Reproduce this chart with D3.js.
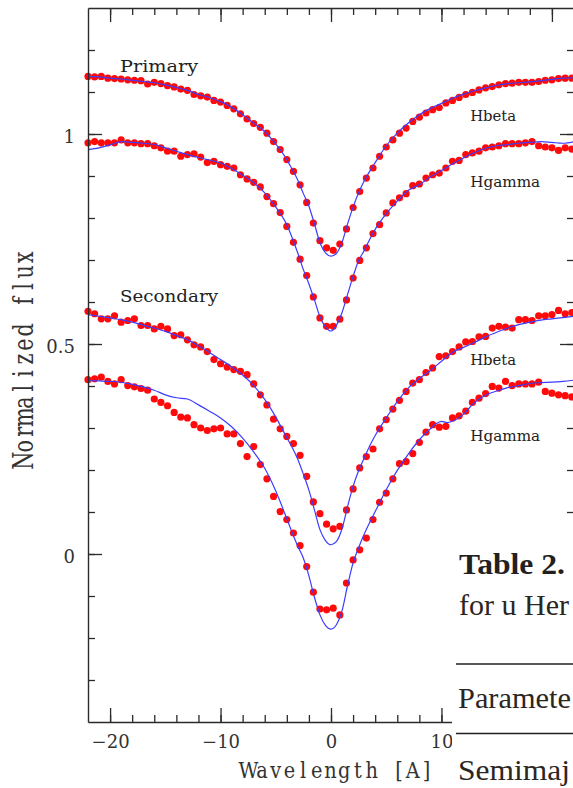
<!DOCTYPE html>
<html>
<head>
<meta charset="utf-8">
<script src="https://cdn.jsdelivr.net/npm/d3@7"></script>
<style>
  html, body { margin: 0; padding: 0; background: #fff; }
  svg { display: block; }
</style>
</head>
<body>
<svg id="chart" width="573" height="788"></svg>
<script>
// Observed sample wavelengths (offset from line centre, in A), shared by all four spectra
const wavelengths = [
  -22, -21.4, -20.8, -20.2, -19.6, -19, -18.4, -17.8, -17.2, -16.6,
  -16, -15.4, -14.8, -14.2, -13.6, -13, -12.4, -11.8, -11.2, -10.6,
  -10, -9.4, -8.8, -8.2, -7.6, -7, -6.4, -5.8, -5.2, -4.6,
  -4, -3.4, -2.8, -2.2, -1.6, -1, -0.4, 0.2, 0.8, 1.4,
  2, 2.6, 3.2, 3.8, 4.4, 5, 5.6, 6.2, 6.8, 7.4,
  8, 8.6, 9.2, 9.8, 10.4, 11, 11.6, 12.2, 12.8, 13.4,
  14, 14.6, 15.2, 15.8, 16.4, 17, 17.6, 18.2, 18.8, 19.4,
  20, 20.6, 21.2, 21.8
];

// Observed normalized flux (offset for display)
const primaryHbetaObs = [
  1.137, 1.136, 1.137, 1.133, 1.132, 1.131, 1.129, 1.128, 1.127, 1.119,
  1.123, 1.120, 1.115, 1.112, 1.107, 1.104, 1.094, 1.091, 1.088, 1.080,
  1.076, 1.068, 1.060, 1.048, 1.036, 1.025, 1.016, 1.002, 0.982, 0.963,
  0.939, 0.911, 0.879, 0.837, 0.788, 0.746, 0.729, 0.723, 0.738, 0.774,
  0.825, 0.863, 0.895, 0.919, 0.947, 0.969, 0.986, 1.002, 1.014, 1.030,
  1.040, 1.050, 1.058, 1.063, 1.074, 1.080, 1.087, 1.094, 1.099, 1.105,
  1.110, 1.113, 1.117, 1.120, 1.121, 1.123, 1.123, 1.123, 1.125, 1.128,
  1.129, 1.132, 1.133, 1.133
];
const primaryHgammaObs = [
  0.979, 0.982, 0.979, 0.979, 0.979, 0.986, 0.979, 0.979, 0.977, 0.977,
  0.972, 0.967, 0.959, 0.959, 0.947, 0.951, 0.953, 0.945, 0.932, 0.935,
  0.927, 0.923, 0.919, 0.903, 0.893, 0.885, 0.874, 0.851, 0.834, 0.813,
  0.780, 0.742, 0.702, 0.663, 0.612, 0.562, 0.542, 0.542, 0.559, 0.605,
  0.657, 0.699, 0.729, 0.763, 0.784, 0.812, 0.836, 0.848, 0.858, 0.877,
  0.881, 0.895, 0.903, 0.907, 0.919, 0.935, 0.937, 0.951, 0.955, 0.959,
  0.967, 0.969, 0.972, 0.977, 0.977, 0.977, 0.979, 0.982, 0.972, 0.969,
  0.967, 0.961, 0.967, 0.964
];
const secondaryHbetaObs = [
  0.578, 0.572, 0.560, 0.560, 0.567, 0.552, 0.556, 0.560, 0.544, 0.544,
  0.536, 0.542, 0.536, 0.520, 0.522, 0.510, 0.498, 0.493, 0.482, 0.463,
  0.453, 0.445, 0.439, 0.435, 0.427, 0.405, 0.379, 0.355, 0.321, 0.298,
  0.280, 0.263, 0.235, 0.185, 0.124, 0.096, 0.071, 0.060, 0.066, 0.105,
  0.155, 0.205, 0.232, 0.250, 0.298, 0.320, 0.345, 0.366, 0.387, 0.407,
  0.415, 0.432, 0.443, 0.470, 0.472, 0.482, 0.493, 0.505, 0.506, 0.517,
  0.518, 0.538, 0.542, 0.540, 0.538, 0.558, 0.558, 0.556, 0.567, 0.567,
  0.570, 0.580, 0.572, 0.575
];
const secondaryHgammaObs = [
  0.415, 0.417, 0.421, 0.411, 0.405, 0.415, 0.401, 0.398, 0.394, 0.390,
  0.369, 0.361, 0.353, 0.337, 0.326, 0.324, 0.308, 0.300, 0.294, 0.298,
  0.300, 0.286, 0.286, 0.263, 0.232, 0.256, 0.213, 0.179, 0.137, 0.101,
  0.082, 0.050, 0.020, -0.030, -0.091, -0.131, -0.133, -0.129, -0.145, -0.069,
  -0.014, 0.010, 0.038, 0.082, 0.123, 0.145, 0.179, 0.215, 0.220, 0.239,
  0.266, 0.290, 0.308, 0.302, 0.304, 0.324, 0.329, 0.340, 0.361, 0.371,
  0.382, 0.399, 0.395, 0.411, 0.401, 0.405, 0.405, 0.405, 0.409, 0.387,
  0.383, 0.379, 0.377, 0.374
];

// Synthetic (model) profiles on their own wavelength grid
const modelWavelengths = [
  -22, -21, -20, -19, -18, -17, -16, -15, -14, -13,
  -12, -11, -10, -9, -8, -7, -6, -5, -4, -3.5,
  -3, -2.5, -2, -1.5, -1, -0.5, 0, 0.5, 1, 1.5,
  2, 2.5, 3, 3.5, 4, 5, 6, 7, 8, 9,
  9.5, 10, 10.5, 11, 12, 13, 14, 15, 16, 17,
  18, 19, 20, 21, 22
];
const primaryHbetaModel = [
  1.137, 1.136, 1.133, 1.131, 1.128, 1.125, 1.122, 1.117, 1.111, 1.104,
  1.094, 1.087, 1.077, 1.064, 1.046, 1.026, 1.006, 0.976, 0.939, 0.915,
  0.890, 0.858, 0.828, 0.786, 0.741, 0.717, 0.709, 0.716, 0.742, 0.786,
  0.826, 0.860, 0.888, 0.911, 0.932, 0.972, 1.002, 1.026, 1.046, 1.061,
  1.067, 1.073, 1.079, 1.085, 1.095, 1.103, 1.110, 1.116, 1.120, 1.122,
  1.124, 1.127, 1.130, 1.133, 1.134
];
const primaryHgammaModel = [
  0.963, 0.967, 0.974, 0.982, 0.980, 0.978, 0.975, 0.967, 0.959, 0.951,
  0.944, 0.938, 0.931, 0.918, 0.902, 0.884, 0.860, 0.826, 0.784, 0.752,
  0.716, 0.677, 0.643, 0.605, 0.565, 0.541, 0.531, 0.545, 0.575, 0.618,
  0.661, 0.699, 0.722, 0.749, 0.773, 0.810, 0.840, 0.866, 0.879, 0.898,
  0.906, 0.913, 0.921, 0.929, 0.943, 0.956, 0.966, 0.972, 0.975, 0.978,
  0.980, 0.982, 0.980, 0.978, 0.982
];
const secondaryHbetaModel = [
  0.570, 0.566, 0.562, 0.558, 0.552, 0.545, 0.538, 0.530, 0.520, 0.510,
  0.496, 0.480, 0.463, 0.446, 0.426, 0.401, 0.368, 0.326, 0.277, 0.253,
  0.225, 0.190, 0.152, 0.105, 0.058, 0.032, 0.022, 0.030, 0.060, 0.113,
  0.161, 0.198, 0.228, 0.257, 0.282, 0.324, 0.363, 0.395, 0.418, 0.437,
  0.448, 0.459, 0.470, 0.480, 0.492, 0.504, 0.517, 0.528, 0.538, 0.546,
  0.552, 0.557, 0.560, 0.563, 0.566
];
const secondaryHgammaModel = [
  0.413, 0.412, 0.411, 0.409, 0.404, 0.398, 0.390, 0.379, 0.372, 0.369,
  0.355, 0.340, 0.324, 0.303, 0.276, 0.243, 0.204, 0.150, 0.084, 0.050,
  0.018, -0.010, -0.052, -0.103, -0.145, -0.170, -0.179, -0.168, -0.135, -0.075,
  -0.021, 0.015, 0.047, 0.075, 0.101, 0.153, 0.199, 0.238, 0.272, 0.298,
  0.310, 0.316, 0.313, 0.316, 0.333, 0.361, 0.378, 0.388, 0.396, 0.401,
  0.406, 0.408, 0.409, 0.411, 0.414
];

// Axis ticks
const xMajorTicks = [-20, -10, 0, 10, 20];
const xMinorTicks = [-20, -18, -16, -14, -12, -10, -8, -6, -4, -2, 0, 2, 4, 6, 8, 10, 12, 14, 16, 18, 20];
const yMajorTicks = [0, 0.5, 1];
const yMinorTicks = [-0.3, -0.2, -0.1, 0, 0.1, 0.2, 0.3, 0.4, 0.5, 0.6, 0.7, 0.8, 0.9, 1, 1.1, 1.2];

// Panel annotations
const curveLabels = [
  { text: "Primary", x: -19.1, y: 1.147, size: 17, len: 78 },
  { text: "Hbeta", x: 12.6, y: 1.030, size: 14, len: 46 },
  { text: "Hgamma", x: 12.6, y: 0.875, size: 14, len: 70 },
  { text: "Secondary", x: -19.1, y: 0.600, size: 17, len: 98 },
  { text: "Hbeta", x: 12.6, y: 0.450, size: 14, len: 46 },
  { text: "Hgamma", x: 12.6, y: 0.268, size: 14, len: 70 }
];

const series = [
  { obs: primaryHbetaObs, model: primaryHbetaModel },
  { obs: primaryHgammaObs, model: primaryHgammaModel },
  { obs: secondaryHbetaObs, model: secondaryHbetaModel },
  { obs: secondaryHgammaObs, model: secondaryHgammaModel }
];

const svg = d3.select("#chart");
const axisColor = "#2a2a2a";

const x = d3.scaleLinear().domain([-22, 22]).range([88, 574]);
const y = d3.scaleLinear().domain([-0.4, 1.3]).range([722, 8]);

// --- observed points (drawn first so the model curves lie on top)
const dotsLayer = svg.append("g");
series.forEach(s => {
  dotsLayer.selectAll(null)
    .data(wavelengths.map((w, i) => [w, s.obs[i]]))
    .join("circle")
    .attr("cx", d => x(d[0]))
    .attr("cy", d => y(d[1]))
    .attr("r", 3.6)
    .attr("fill", "#ff0a0a");
});

// --- model curves
const line = d3.line()
  .x(d => x(d[0]))
  .y(d => y(d[1]))
  .curve(d3.curveMonotoneX);
const linesLayer = svg.append("g");
series.forEach(s => {
  linesLayer.append("path")
    .datum(modelWavelengths.map((w, i) => [w, s.model[i]]))
    .attr("d", line)
    .attr("fill", "none")
    .attr("stroke", "#3c3cff")
    .attr("stroke-width", 1.2);
});

// --- frame and ticks
function styleAxis(g) {
  g.selectAll("path.domain").attr("stroke", axisColor).attr("stroke-width", 1.4);
  g.selectAll(".tick line").attr("stroke", axisColor).attr("stroke-width", 1.3);
}

const tickFont = "'DejaVu Serif', serif";

// bottom
svg.append("g").attr("transform", "translate(0,722)")
  .call(d3.axisBottom(x).tickValues(xMinorTicks).tickSizeInner(-7).tickSizeOuter(0).tickFormat(""))
  .call(styleAxis);
const bottomMajor = svg.append("g").attr("transform", "translate(0,722)")
  .call(d3.axisBottom(x).tickValues(xMajorTicks).tickSizeInner(-14).tickSizeOuter(0).tickPadding(13.5))
  .call(styleAxis);
bottomMajor.selectAll("text")
  .attr("font-family", tickFont).attr("font-size", 18).attr("fill", "#333");
bottomMajor.select("path.domain").remove();

// top
svg.append("g").attr("transform", "translate(0,8)")
  .call(d3.axisTop(x).tickValues(xMinorTicks).tickSizeInner(-7).tickSizeOuter(0).tickFormat(""))
  .call(styleAxis);
svg.append("g").attr("transform", "translate(0,8)")
  .call(d3.axisTop(x).tickValues(xMajorTicks).tickSizeInner(-14).tickSizeOuter(0).tickFormat(""))
  .call(styleAxis)
  .select("path.domain").remove();

// left
svg.append("g").attr("transform", "translate(88,0)")
  .call(d3.axisLeft(y).tickValues(yMinorTicks).tickSizeInner(-7).tickSizeOuter(0).tickFormat(""))
  .call(styleAxis);
const leftMajor = svg.append("g").attr("transform", "translate(88,0)")
  .call(d3.axisLeft(y).tickValues(yMajorTicks).tickSizeInner(-14).tickSizeOuter(0).tickPadding(13)
    .tickFormat(d3.format("~g")))
  .call(styleAxis);
leftMajor.selectAll("text")
  .attr("font-family", tickFont).attr("font-size", 18).attr("fill", "#333").attr("dy", "0.45em");
leftMajor.select("path.domain").remove();

// right
svg.append("g").attr("transform", "translate(574,0)")
  .call(d3.axisRight(y).tickValues(yMinorTicks).tickSizeInner(-7).tickSizeOuter(0).tickFormat(""))
  .call(styleAxis);
svg.append("g").attr("transform", "translate(574,0)")
  .call(d3.axisRight(y).tickValues(yMajorTicks).tickSizeInner(-14).tickSizeOuter(0).tickFormat(""))
  .call(styleAxis)
  .select("path.domain").remove();

// --- axis titles, set in fixed-pitch cells (typewriter style) with a condensed serif
function typewriter(parent, str, transform, cell, squeeze, size) {
  const chars = Array.from(str);
  const xs = chars.map((c, i) => ((i + 0.5) * cell / squeeze).toFixed(2)).join(" ");
  return parent.append("text")
    .attr("transform", `${transform} scale(${squeeze},1)`)
    .attr("x", xs)
    .attr("y", 0)
    .attr("text-anchor", "middle")
    .attr("font-family", "'DejaVu Serif', serif")
    .attr("font-size", size)
    .attr("fill", "#333")
    .text(str);
}
typewriter(svg, "Wavelength [A]", "translate(241.5,778)", 13.7, 0.9, 21.5);
typewriter(svg, "Normalized flux", "translate(33,468) rotate(-90)", 14.53, 0.74, 28);

// --- curve annotations
svg.append("g").selectAll("text")
  .data(curveLabels)
  .join("text")
  .attr("x", d => x(d.x))
  .attr("y", d => y(d.y))
  .attr("font-family", "'DejaVu Serif', serif")
  .attr("font-size", d => d.size)
  .attr("fill", "#222")
  .attr("textLength", d => d.len)
  .attr("lengthAdjust", "spacingAndGlyphs")
  .text(d => d.text);

// --- neighbouring table page content
const table = svg.append("g");
table.append("rect")
  .attr("x", 452).attr("y", 525).attr("width", 130).attr("height", 270)
  .attr("fill", "#fff");
const serif = "'Liberation Serif', 'Times New Roman', serif";
table.append("text").attr("x", 459).attr("y", 574)
  .attr("font-family", serif).attr("font-weight", "bold").attr("font-size", 30)
  .attr("fill", "#231f20")
  .attr("textLength", 106).attr("lengthAdjust", "spacingAndGlyphs")
  .text("Table 2.");
table.append("text").attr("x", 459).attr("y", 615)
  .attr("font-family", serif).attr("font-size", 30)
  .attr("fill", "#2c2622").text("for u Her");
table.append("line").attr("x1", 456).attr("x2", 580).attr("y1", 664).attr("y2", 664)
  .attr("stroke", "#231f20").attr("stroke-width", 1.6);
table.append("text").attr("x", 458).attr("y", 708)
  .attr("font-family", serif).attr("font-size", 30)
  .attr("fill", "#2c2622")
  .attr("textLength", 113).attr("lengthAdjust", "spacingAndGlyphs")
  .text("Paramete");
table.append("line").attr("x1", 456).attr("x2", 580).attr("y1", 733.5).attr("y2", 733.5)
  .attr("stroke", "#231f20").attr("stroke-width", 1.6);
table.append("text").attr("x", 458).attr("y", 780)
  .attr("font-family", serif).attr("font-size", 30)
  .attr("fill", "#2c2622")
  .attr("textLength", 112).attr("lengthAdjust", "spacingAndGlyphs")
  .text("Semimaj");
</script>
</body>
</html>
